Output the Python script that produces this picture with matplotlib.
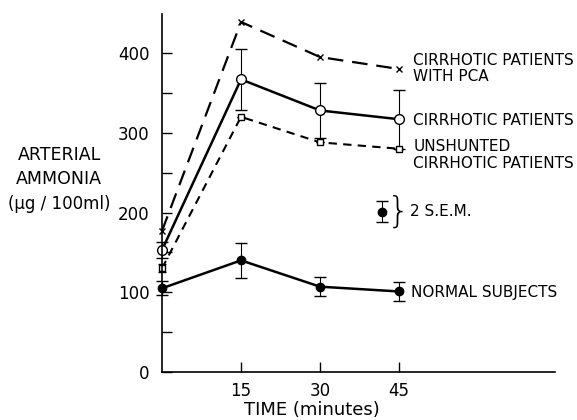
import matplotlib
matplotlib.use("Agg")
import matplotlib.pyplot as plt
from matplotlib.ticker import MultipleLocator

plt.rcParams['font.family'] = ['DejaVu Sans']

time = [0, 15, 30, 45]
pca = [177, 439, 395, 380]
cirr = [153, 367, 328, 317]
cirr_err = [10, 38, 34, 37]
unshunted = [130, 320, 288, 280]
unshunted_err = [5, 0, 0, 0]
normal = [105, 140, 107, 101]
normal_err = [9, 22, 12, 12]

sem_x, sem_y, sem_err = 41.7, 201, 13

xticks = [15, 30, 45]
yticks_major = [0, 100, 200, 300, 400]

fig = plt.figure(figsize=(5.77, 4.2), dpi=100)
ax = fig.add_axes([162/577, 48/420, (555-162)/577, (372-14)/420])
ax.set_xlim(0, 74.6)
ax.set_ylim(0, 449)

k = 'black'
ax.plot(time, pca, color=k, lw=1.6, ls=(0, (7, 4)), marker='x', ms=5, mew=1.0, clip_on=False)
ax.errorbar(time, cirr, yerr=cirr_err, color=k, lw=1.8, marker='o', ms=7,
            mfc='white', mec=k, mew=1.0, ecolor=k, elinewidth=0.8, capsize=4, clip_on=False)
ax.errorbar(time, unshunted, yerr=unshunted_err, color=k, lw=1.5, ls=(0, (4, 3)), marker='s', ms=5,
            mfc='white', mec=k, mew=1.0, ecolor=k, elinewidth=0.8, capsize=3, clip_on=False)
ax.errorbar(time, normal, yerr=normal_err, color=k, lw=1.8, marker='o', ms=6,
            mfc=k, mec=k, ecolor=k, elinewidth=0.8, capsize=4, clip_on=False)
ax.errorbar([sem_x], [sem_y], yerr=[sem_err], color=k, marker='o', ms=6, mfc=k,
            ecolor=k, elinewidth=0.8, capsize=4, ls='none')
ax.text(42.6, sem_y, '}', fontsize=26, va='center', ha='left', fontweight='light')

for s in ['top', 'right']:
    ax.spines[s].set_visible(False)
ax.spines['left'].set_linewidth(1.2)
ax.spines['bottom'].set_linewidth(1.2)

ax.set_xticks(xticks)
ax.set_xticklabels([str(t) for t in xticks])
ax.set_yticks(yticks_major)
ax.yaxis.set_minor_locator(MultipleLocator(50))
ax.tick_params(axis='both', which='both', direction='in', length=7, width=1.0, labelsize=12, pad=9)
ax.tick_params(axis='x', pad=7)

fs = 11
ax.text(47.7, 391, 'CIRRHOTIC PATIENTS', fontsize=fs, va='center')
ax.text(47.7, 370, 'WITH PCA', fontsize=fs, va='center')
ax.text(47.7, 316, 'CIRRHOTIC PATIENTS', fontsize=fs, va='center')
ax.text(47.7, 283, 'UNSHUNTED', fontsize=fs, va='center')
ax.text(47.7, 262, 'CIRRHOTIC PATIENTS', fontsize=fs, va='center')
ax.text(47.0, sem_y, '2 S.E.M.', fontsize=fs, va='center')
ax.text(47.3, 100, 'NORMAL SUBJECTS', fontsize=fs, va='center')

fig.text(59/577, (420-155)/420, 'ARTERIAL', fontsize=12.5, ha='center', va='center')
fig.text(59/577, (420-179)/420, 'AMMONIA', fontsize=12.5, ha='center', va='center')
fig.text(59/577, (420-204)/420, '(µg / 100ml)', fontsize=12, ha='center', va='center')
fig.text(312/577, (420-410)/420, 'TIME (minutes)', fontsize=13, ha='center', va='center')

fig.savefig('out.png', dpi=100)
